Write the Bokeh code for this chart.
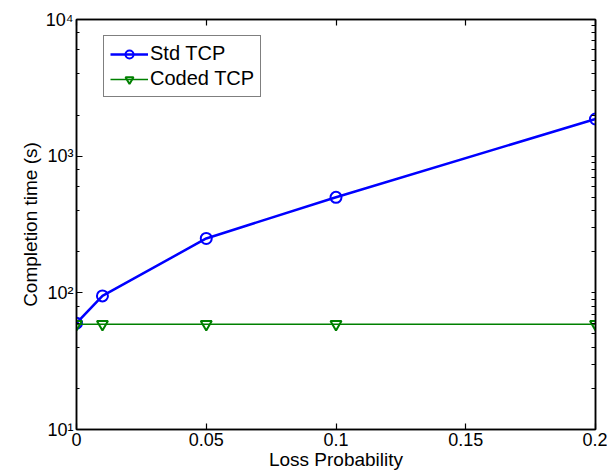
from bokeh.plotting import figure
from bokeh.models import LogAxis, LinearAxis, Legend, LegendItem, Range1d, FixedTicker, LogTicker
from bokeh.embed import file_html
from bokeh.resources import INLINE

loss_prob = [0, 0.01, 0.05, 0.1, 0.2]
std_tcp = [60, 95, 250, 500, 1870]
coded_tcp = [59, 59, 59, 59, 59]
x_ticks = [0, 0.05, 0.1, 0.15, 0.2]
x_tick_labels = ["0", "0.05", "0.1", "0.15", "0.2"]
y_ticks = [10, 100, 1000, 10000]
y_tick_labels = ["10\u00b9", "10\u00b2", "10\u00b3", "10\u2074"]

FONT = "Liberation Sans"

p = figure(width=607, height=475, output_backend="svg", toolbar_location=None,
           y_axis_type="log", x_range=Range1d(0, 0.2), y_range=Range1d(10, 10000),
           min_border_left=76, min_border_right=12, min_border_top=19, min_border_bottom=46,
           x_axis_location=None, y_axis_location=None)
p.xgrid.visible = False
p.ygrid.visible = False
p.outline_line_color = "black"
p.outline_line_width = 1.5
p.background_fill_color = "white"
p.border_fill_color = "white"

def style(ax):
    ax.major_tick_in = 6
    ax.major_tick_out = 0
    ax.minor_tick_in = 3
    ax.minor_tick_out = 0
    ax.axis_line_color = "black"
    ax.axis_line_width = 1.5
    ax.major_tick_line_width = 1.2
    ax.minor_tick_line_width = 1.2
    ax.major_label_text_font = FONT
    ax.major_label_text_font_size = "18px"
    ax.major_label_text_color = "black"
    ax.major_label_standoff = 3
    ax.axis_label_text_color = "black"

xb = LinearAxis(ticker=FixedTicker(ticks=x_ticks),
                major_label_overrides={t: l for t, l in zip(x_ticks, x_tick_labels)})
style(xb)
xb.minor_tick_in = 0
xb.axis_label = "Loss Probability"
xb.axis_label_text_font = FONT
xb.axis_label_text_font_size = "19px"
xb.axis_label_text_font_style = "normal"
xb.axis_label_standoff = 0
p.add_layout(xb, "below")

xt = LinearAxis(ticker=FixedTicker(ticks=[], minor_ticks=x_ticks))
style(xt)
xt.minor_tick_in = 6
p.add_layout(xt, "above")

yl = LogAxis(ticker=LogTicker(desired_num_ticks=4),
             major_label_overrides={t: l for t, l in zip(y_ticks, y_tick_labels)})
style(yl)
yl.axis_label = "Completion time (s)"
yl.axis_label_text_font = FONT
yl.axis_label_text_font_size = "19px"
yl.axis_label_text_font_style = "normal"
yl.axis_label_standoff = 2
p.add_layout(yl, "left")

y_minor = [m * d for d in y_ticks[:-1] for m in range(2, 10)]
yr = LogAxis(ticker=FixedTicker(ticks=[], minor_ticks=y_ticks + y_minor))
style(yr)
yr.minor_tick_in = 4
p.add_layout(yr, "right")

r1 = p.line(loss_prob, std_tcp, line_color="#0000ff", line_width=2.5)
r1m = p.scatter(loss_prob, std_tcp, marker="circle", size=11, fill_color=None,
                line_color="#0000ff", line_width=2)
r2 = p.line(loss_prob, coded_tcp, line_color="#008000", line_width=1.5)
r2m = p.scatter(loss_prob, coded_tcp, marker="inverted_triangle", size=11, fill_color=None,
                line_color="#008000", line_width=2)

legend = Legend(items=[LegendItem(label="Std TCP", renderers=[r1, r1m]),
                       LegendItem(label="Coded TCP", renderers=[r2, r2m])],
                location=(27, 332), border_line_color="black", border_line_width=1.5,
                label_text_font=FONT, label_text_font_size="20px", label_text_color="black",
                glyph_width=38, glyph_height=20, label_standoff=2, spacing=2,
                padding=6, margin=0)
p.add_layout(legend, "center")

open("out.html", "w").write(file_html(p, INLINE))
